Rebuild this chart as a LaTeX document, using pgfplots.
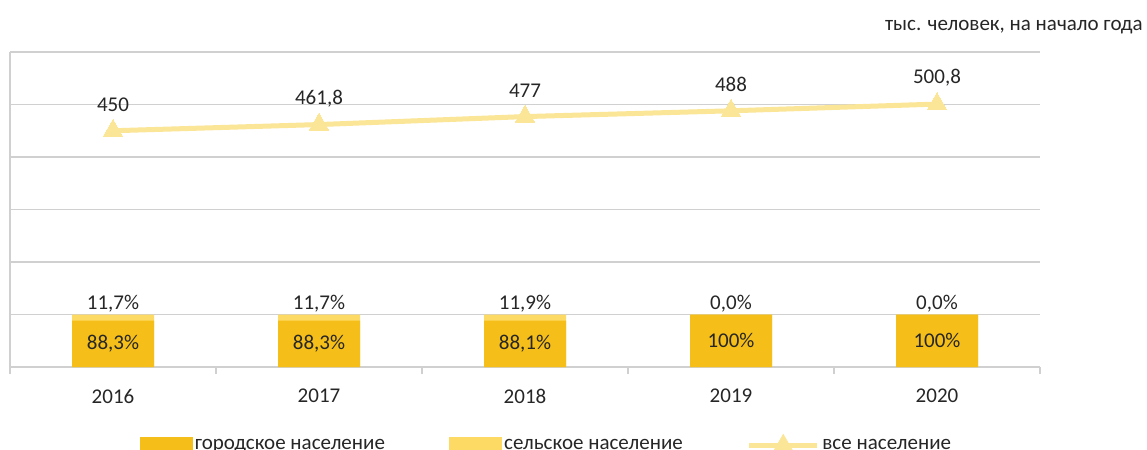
\documentclass[border=0pt]{standalone}
\usepackage{pgfplots}
\pgfplotsset{compat=1.18}
\usepackage{fontspec}
\setmainfont{Carlito}
\definecolor{urb}{HTML}{F5BE19}
\definecolor{rur}{HTML}{FDDA64}
\definecolor{tot}{HTML}{FBE596}
\definecolor{gridc}{HTML}{D0D0D0}
\definecolor{txt}{HTML}{262626}
\begin{document}
\fontsize{15.75}{19}\selectfont
\begin{tikzpicture}
\useasboundingbox (0,0) rectangle (860.25pt,337.5pt);
\node[anchor=east, txt, inner sep=0pt] at (857.25pt,317.25pt) {тыс. человек, на начало года};
\begin{axis}[
  at={(7.5pt,62.25pt)}, anchor=south west,
  width=772.5pt, height=236.25pt, scale only axis,
  xmin=-0.5, xmax=4.5, ymin=0, ymax=600,
  axis x line*=bottom, axis y line*=left,
  axis line style={gridc, line width=1.1pt},
  xtick={0,1,2,3,4}, xticklabels={2016,2017,2018,2019,2020},
  minor xtick={-0.5,0.5,1.5,2.5,3.5,4.5},
  major x tick style={draw=none},
  minor x tick style={gridc, line width=1.1pt},
  minor tick length=5.25pt,
  tick align=outside,
  ytick={0,100,...,600}, yticklabels={},
  major y tick style={draw=none},
  ymajorgrids, grid style={gridc, line width=1.1pt},
  xticklabel style={txt, anchor=center, yshift=-17.5pt},
  legend style={at={(axis description cs:0.521,-0.246)}, anchor=center, draw=none, fill=none,
    font=\fontsize{15.75}{19}\selectfont, text=txt,
    nodes={inner xsep=2pt},
    /tikz/every even column/.append style={column sep=46pt}},
  legend columns=3,
]
% rural (full bar, background)
\addplot[forget plot, ybar, bar width=61.5pt, bar shift=0pt, fill=rur, draw=none,
  nodes near coords, point meta=explicit symbolic,
  every node near coord/.append style={txt, anchor=center, yshift=8pt}]
  table[meta=lab, row sep=\\]{x y lab\\ 0 100 {11,7\%}\\ 1 100 {11,7\%}\\ 2 100 {11,9\%}\\ 3 100 {0,0\%}\\ 4 100 {0,0\%}\\};
% urban
\addplot[forget plot, ybar, bar width=61.5pt, bar shift=0pt, fill=urb, draw=none]
  table[row sep=\\]{x y\\ 0 88.3\\ 1 88.3\\ 2 88.1\\ 3 100\\ 4 100\\};
% urban labels at half height
\addplot[forget plot, draw=none, mark=none,
  nodes near coords, point meta=explicit symbolic,
  every node near coord/.append style={txt, anchor=center}]
  table[meta=lab, row sep=\\]{x y lab\\ 0 44.15 {88,3\%}\\ 1 44.15 {88,3\%}\\ 2 44.05 {88,1\%}\\ 3 50 {100\%}\\ 4 50 {100\%}\\};
% total
\addplot[forget plot, tot, line width=3.75pt, mark=triangle*, mark size=8.5pt,
  mark options={line width=0pt},
  nodes near coords, point meta=explicit symbolic,
  every node near coord/.append style={txt, anchor=center, yshift=19.5pt}]
  table[meta=lab, row sep=\\]{x y lab\\ 0 450 {450}\\ 1 461.8 {461,8}\\ 2 477 {477}\\ 3 488 {488}\\ 4 500.8 {500,8}\\};
\addlegendimage{legend image code/.code={\fill[urb] (0pt,-6pt) rectangle (39pt,6pt);}}
\addlegendentry{городское население}
\addlegendimage{legend image code/.code={\fill[rur] (0pt,-6pt) rectangle (39pt,6pt);}}
\addlegendentry{сельское население}
\addlegendimage{legend image code/.code={\draw[tot, line width=3.75pt] (0pt,0pt) -- (51pt,0pt); \fill[tot] (25.5pt,0pt) +(90:8.5pt) -- +(210:8.5pt) -- +(330:8.5pt) -- cycle;}}
\addlegendentry{все население}
\end{axis}
\end{tikzpicture}
\end{document}
